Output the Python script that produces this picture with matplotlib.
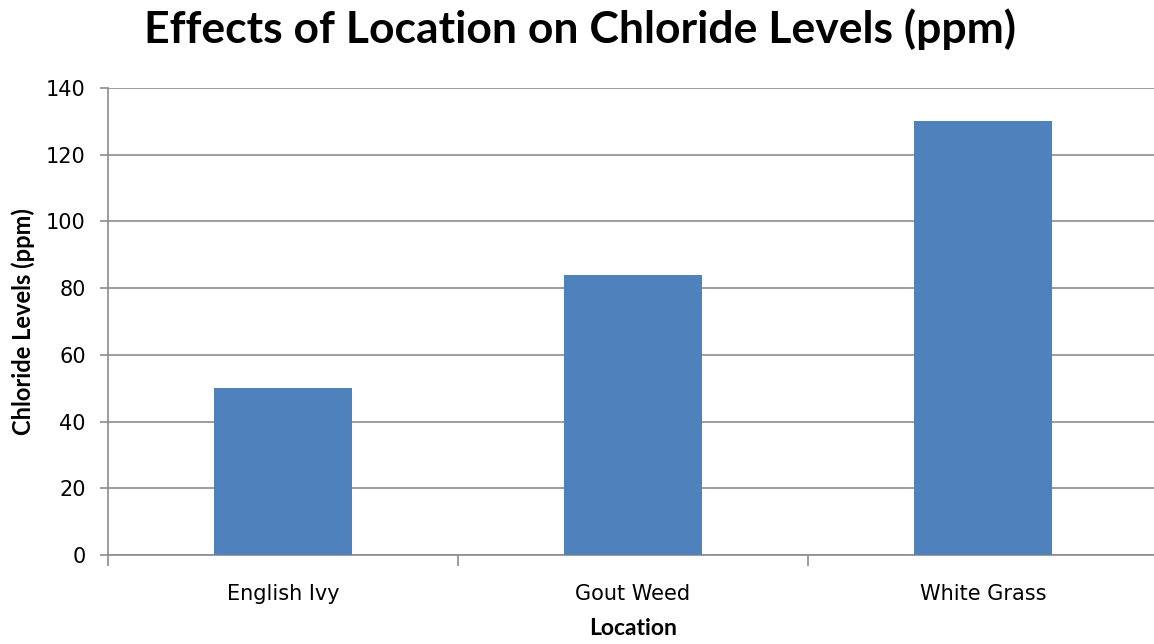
import matplotlib
matplotlib.use("Agg")
import matplotlib.pyplot as plt
import numpy as np

# chart data
locations = ["English Ivy", "Gout Weed", "White Grass"]
chloride_ppm = [50, 84, 130]
y_ticks = [0, 20, 40, 60, 80, 100, 120, 140]

fig = plt.figure(figsize=(11.54, 6.44), dpi=100)
ax = fig.add_axes([108 / 1154, 1 - 555 / 644, 1050 / 1154, 467 / 644])

x = np.arange(len(locations))
ax.bar(x, chloride_ppm, width=0.394, color="#4F81BD", zorder=3)

ax.set_xlim(-0.5, len(locations) - 0.5)
ax.set_ylim(0, 140)
ax.set_yticks(y_ticks)
ax.yaxis.grid(True, color="#8C8C8C", linewidth=1.2, zorder=0)

# category labels centred, tick marks between categories
ax.set_xticks(x)
ax.set_xticklabels(locations, fontsize=15, family="DejaVu Sans")
ax.tick_params(axis="x", length=0, pad=21)
ax.set_xticks(np.arange(-0.5, len(locations) - 0.5, 1), minor=True)
ax.tick_params(axis="x", which="minor", length=8, color="#8C8C8C", width=1.2)
ax.tick_params(axis="y", length=6, color="#8C8C8C", width=1.2, labelsize=15, pad=10)

for side in ["top", "right"]:
    ax.spines[side].set_visible(False)
for side in ["left", "bottom"]:
    ax.spines[side].set_color("#8C8C8C")
    ax.spines[side].set_linewidth(1.2)

ax.set_ylabel("Chloride Levels (ppm)", fontsize=17, fontweight="bold", family="Lato", labelpad=8)
ax.set_xlabel("Location", fontsize=16.5, fontweight="bold", family="Lato", labelpad=10)

fig.text(580 / 1154, 1 - 43 / 644, "Effects of Location on Chloride Levels (ppm)",
         ha="center", va="baseline", fontsize=32, fontweight="bold", family="Lato")

fig.savefig("out.png", dpi=100)
